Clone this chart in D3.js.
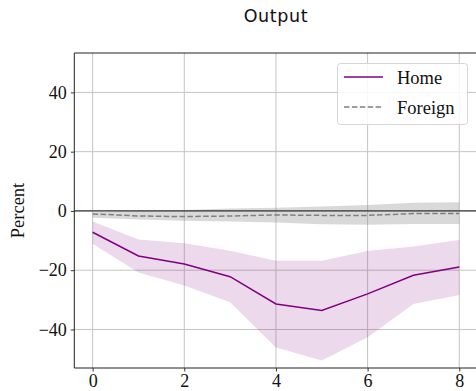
<!DOCTYPE html>
<html><head><meta charset="utf-8">
<script src="https://cdn.jsdelivr.net/npm/d3@7"></script>
<style>body{margin:0;background:#fff}svg{display:block}</style>
</head><body><svg id="c" width="476" height="391"></svg>
<script>
const horizons = [0,1,2,3,4,5,6,7,8];
const homeMean  = [-7.2,-15.2,-17.9,-22.2,-31.4,-33.6,-28.0,-21.7,-18.9];
const homeUpper = [-3.6,-9.6,-10.9,-13.4,-16.8,-16.8,-13.5,-12.0,-9.8];
const homeLower = [-11.1,-20.8,-25.2,-30.8,-46.1,-50.5,-42.6,-31.4,-28.4];
const foreignMean  = [-1.0,-1.7,-1.9,-1.7,-1.35,-1.5,-1.5,-0.9,-0.9];
const foreignUpper = [-0.4,0.0,0.3,0.8,1.1,1.5,2.0,2.8,2.9];
const foreignLower = [-2.3,-2.9,-3.3,-3.6,-3.9,-4.5,-4.7,-4.4,-4.4];
const xTicks = [0,2,4,6,8];
const yTicks = [-40,-20,0,20,40];
const seriesNames = ["Home","Foreign"];

const svg = d3.select("#c");
const L=74.3, R=477.6, T=53, B=368;
const x = d3.scaleLinear().domain([-0.4,8.4]).range([L,R]);
const y = d3.scaleLinear().domain([-53,53.3]).range([B,T]);
const serif = "'Liberation Serif', serif";

const g = svg.append("g");
// grid
g.selectAll(".gx").data(xTicks).enter().append("line")
  .attr("x1",d=>x(d)).attr("x2",d=>x(d)).attr("y1",T).attr("y2",B)
  .attr("stroke","#c4c4c4").attr("stroke-width",1);
g.selectAll(".gy").data(yTicks).enter().append("line")
  .attr("x1",L).attr("x2",R).attr("y1",d=>y(d)).attr("y2",d=>y(d))
  .attr("stroke","#c4c4c4").attr("stroke-width",1);

const area = (lo,hi)=>d3.area().x((d,i)=>x(horizons[i])).y0((d,i)=>y(lo[i])).y1((d,i)=>y(hi[i]));
const line = arr=>d3.line().x((d,i)=>x(horizons[i])).y((d,i)=>y(arr[i]));

g.append("path").attr("d",area(foreignLower,foreignUpper)(horizons))
  .attr("fill","#808080").attr("fill-opacity",0.3);
g.append("path").attr("d",area(homeLower,homeUpper)(horizons))
  .attr("fill","#800080").attr("fill-opacity",0.15);

// zero line
g.append("line").attr("x1",L).attr("x2",R).attr("y1",y(0)).attr("y2",y(0))
  .attr("stroke","#3a3a3a").attr("stroke-width",1.3);

g.append("path").attr("d",line(foreignMean)(horizons)).attr("fill","none")
  .attr("stroke","#808080").attr("stroke-width",1.5).attr("stroke-dasharray","5.5,2.4");
g.append("path").attr("d",line(homeMean)(horizons)).attr("fill","none")
  .attr("stroke","#800080").attr("stroke-width",1.5);

// axes
const ax = svg.append("g").attr("transform",`translate(0,${B})`)
  .call(d3.axisBottom(x).tickValues(xTicks).tickSize(3.5).tickPadding(2.5).tickFormat(d3.format("d")));
const ay = svg.append("g").attr("transform",`translate(${L},0)`)
  .call(d3.axisLeft(y).tickValues(yTicks).tickSize(3.5).tickPadding(4).tickFormat(d=>d<0?"\u2212"+Math.abs(d):d));
[ax,ay].forEach(a=>{
  a.select(".domain").remove();
  a.selectAll("line").attr("stroke","#222").attr("stroke-width",0.9);
  a.selectAll("text").attr("font-family",serif).attr("font-size","18px").attr("fill","#111");
});
// spines
svg.append("line").attr("x1",L).attr("x2",L).attr("y1",T).attr("y2",B).attr("stroke","#222").attr("stroke-width",1);
svg.append("line").attr("x1",L).attr("x2",R).attr("y1",B).attr("y2",B).attr("stroke","#222").attr("stroke-width",1);
svg.append("line").attr("x1",L).attr("x2",R).attr("y1",T).attr("y2",T).attr("stroke","#222").attr("stroke-width",1);

// title
svg.append("text").attr("x",(L+R)/2).attr("y",22).attr("text-anchor","middle")
  .attr("font-family","'DejaVu Sans', sans-serif").attr("font-size","17.5px").attr("letter-spacing","0.6px")
  .attr("fill","#111").text("Output");
// y label
svg.append("text").attr("transform",`translate(24,${(T+B)/2}) rotate(-90)`).attr("text-anchor","middle")
  .attr("font-family",serif).attr("font-size","18.5px").attr("fill","#111").text("Percent");

// legend
const lg = svg.append("g");
lg.append("rect").attr("x",337.5).attr("y",63.5).attr("width",130).attr("height",61).attr("rx",3)
  .attr("fill","#fff").attr("fill-opacity",0.85).attr("stroke","#d6d6d6").attr("stroke-width",1);
const styles = [{c:"#800080",dash:null},{c:"#808080",dash:"5.5,2.4"}];
seriesNames.forEach((n,i)=>{
  const yy = 77 + i*30;
  const l = lg.append("line").attr("x1",344).attr("x2",383).attr("y1",yy).attr("y2",yy)
    .attr("stroke",styles[i].c).attr("stroke-width",1.5);
  if(styles[i].dash) l.attr("stroke-dasharray",styles[i].dash);
  lg.append("text").attr("x",397).attr("y",yy+6.5).attr("font-family",serif).attr("font-size","18.5px")
    .attr("fill","#111").text(n);
});
</script></body></html>
